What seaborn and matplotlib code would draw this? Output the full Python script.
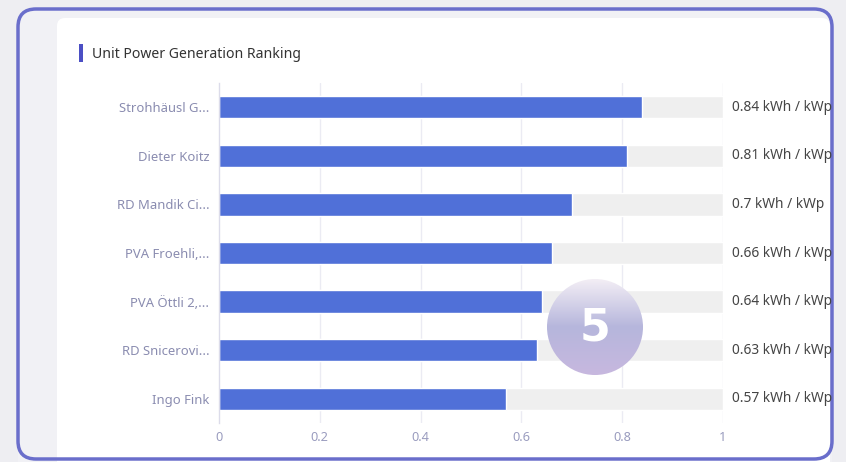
import numpy as np
import pandas as pd
import seaborn as sns
import matplotlib.pyplot as plt
from matplotlib.patches import FancyBboxPatch, Rectangle, Circle
from matplotlib.colors import LinearSegmentedColormap

names = ["Strohhäusl G...", "Dieter Koitz", "RD Mandik Ci...", "PVA Froehli,...",
         "PVA Öttli 2,...", "RD Snicerovi...", "Ingo Fink"]
values = [0.84, 0.81, 0.70, 0.66, 0.64, 0.63, 0.57]
value_labels = ["0.84 kWh / kWp", "0.81 kWh / kWp", "0.7 kWh / kWp", "0.66 kWh / kWp",
                "0.64 kWh / kWp", "0.63 kWh / kWp", "0.57 kWh / kWp"]
x_ticks = [0, 0.2, 0.4, 0.6, 0.8, 1]
x_tick_labels = ["0", "0.2", "0.4", "0.6", "0.8", "1"]
title = "Unit Power Generation Ranking"
badge = "5"

sns.set_theme(style="white")
plt.rcParams['font.family'] = ['Noto Sans', 'DejaVu Sans']

W, H = 846, 462
fig = plt.figure(figsize=(W / 100, H / 100), dpi=100)
fig.patch.set_facecolor("#eeeef2")

bg = fig.add_axes([0, 0, 1, 1])
bg.set_xlim(0, W)
bg.set_ylim(H, 0)
bg.axis("off")
bg.add_patch(FancyBboxPatch((18, 9), 814, 500, boxstyle="round,pad=0,rounding_size=18",
                            facecolor="#f1f1f5", edgecolor="none"))
bg.add_patch(FancyBboxPatch((57, 18), 773, 500, boxstyle="round,pad=0,rounding_size=8",
                            facecolor="white", edgecolor="none"))
bg.add_patch(FancyBboxPatch((18, 9), 814, 450, boxstyle="round,pad=0,rounding_size=18",
                            facecolor="none", edgecolor="#6a6ecb", linewidth=2.5))
bg.add_patch(Rectangle((79, 44), 3.5, 18, facecolor="#4b4fc4", edgecolor="none"))
bg.text(92, 54, title, fontsize=10.1, color="#333333", va="center", ha="left")

df = pd.DataFrame({"name": names, "value": values, "full": [1.0] * len(names)})

ax = fig.add_axes([219 / W, 1 - 423 / H, 504 / W, 340 / H])
ax.set_facecolor("none")
for xv in x_ticks[1:]:
    ax.axvline(xv, color="#ebebf3", linewidth=1, zorder=0)
sns.barplot(data=df, y="name", x="full", orient="h", color="#efefef", width=0.46,
            ax=ax, zorder=1, saturation=1)
sns.barplot(data=df, y="name", x="value", orient="h", color="#5070d8", width=0.46,
            ax=ax, zorder=2, saturation=1)
ax.set_xlim(0, 1)
ax.set_ylim(len(names) - 0.5, -0.5)
ax.set_xlabel("")
ax.set_ylabel("")
ax.set_xticks(x_ticks)
ax.set_xticklabels(x_tick_labels)
ax.tick_params(axis="x", length=0, colors="#9a9cbf", labelsize=9.2, pad=6)
ax.tick_params(axis="y", which="major", length=0, colors="#8a8cb0", labelsize=9.4, pad=7)
ax.set_yticks(np.arange(-0.5, len(names), 1.0), minor=True)
ax.tick_params(axis="y", which="minor", length=4, color="#dcdcea", width=1)
for s in ["top", "right", "bottom"]:
    ax.spines[s].set_visible(False)
ax.spines["left"].set_color("#dcdcea")
ax.spines["left"].set_linewidth(1)

for i, lab in enumerate(value_labels):
    ax.text(1.018, i, lab, transform=ax.get_yaxis_transform(), fontsize=9.9,
            color="#444444", va="center", ha="left", clip_on=False)

ov = fig.add_axes([0, 0, 1, 1], zorder=10)
ov.set_xlim(0, W)
ov.set_ylim(H, 0)
ov.axis("off")
cx, cy, r = 595, 327, 48
grad = np.linspace(0, 1, 256).reshape(-1, 1)
cmap = LinearSegmentedColormap.from_list("b", ["#f3eef5", "#b6b6dc", "#c7b8df"])
im = ov.imshow(grad, extent=(cx - r, cx + r, cy + r, cy - r), cmap=cmap, aspect="auto", zorder=10)
circ = Circle((cx, cy), r, transform=ov.transData, facecolor="none", edgecolor="none")
ov.add_patch(circ)
im.set_clip_path(circ)
ov.set_xlim(0, W)
ov.set_ylim(H, 0)
ov.text(cx, cy + 1, badge, fontsize=32, fontweight="bold", family="DejaVu Sans",
        color="white", ha="center", va="center", zorder=11)

fig.savefig("out.png", dpi=100)
